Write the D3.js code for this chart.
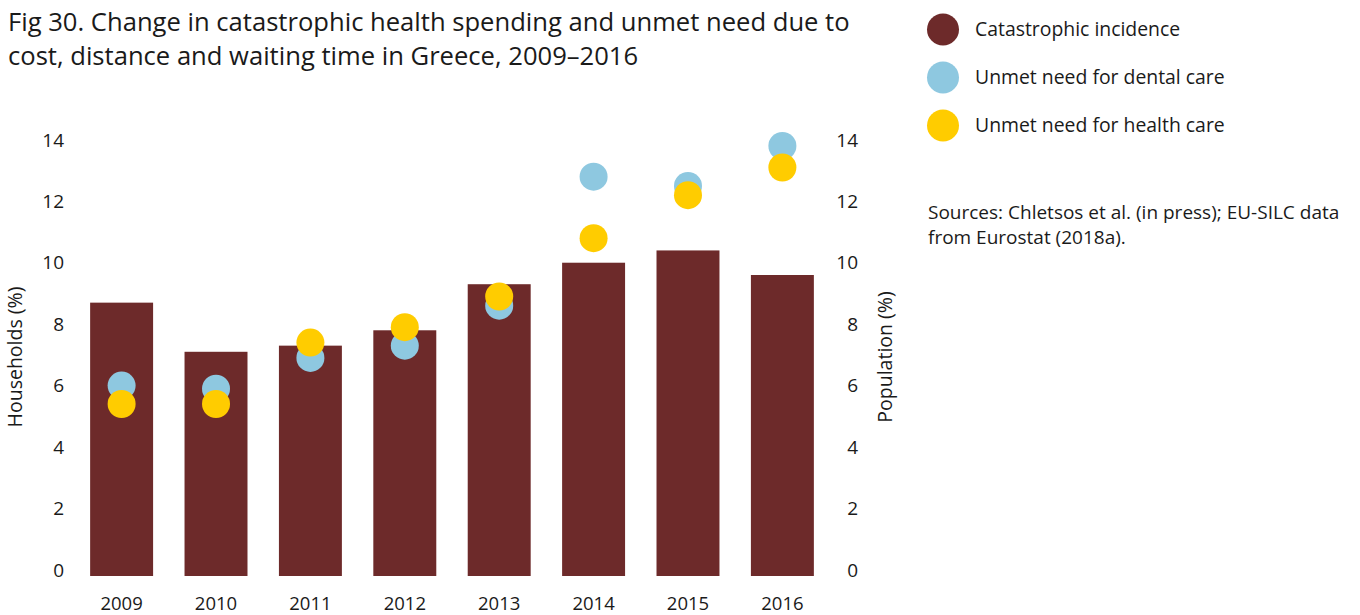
<!DOCTYPE html>
<html><head><meta charset="utf-8">
<script src="https://cdn.jsdelivr.net/npm/d3@7"></script>
<style>body{margin:0;background:#fff;} text{font-family:"Open Sans","Noto Sans",sans-serif;fill:#1a1a1a;}</style>
</head><body>
<svg id="c" width="1360" height="615"></svg>
<script>
const years = ["2009","2010","2011","2012","2013","2014","2015","2016"];
const catastrophic = [8.9, 7.3, 7.5, 8.0, 9.5, 10.2, 10.6, 9.8];
const dental = [6.2, 6.1, 7.1, 7.5, 8.8, 13.0, 12.7, 14.0];
const health = [5.6, 5.6, 7.6, 8.1, 9.1, 11.0, 12.4, 13.3];
const yTicks = [0, 2, 4, 6, 8, 10, 12, 14];
const seriesNames = ["Catastrophic incidence", "Unmet need for dental care", "Unmet need for health care"];
const colors = ["#6d2a2a", "#8ec8e0", "#ffcc00"];
const titleLines = ["Fig 30. Change in catastrophic health spending and unmet need due to", "cost, distance and waiting time in Greece, 2009\u20132016"];
const sourceLines = ["Sources: Chletsos et al. (in press); EU-SILC data", "from Eurostat (2018a)."];

const FONT = '"Open Sans","Noto Sans",sans-serif';
const svg = d3.select("#c");
const x = d3.scaleBand().domain(years).range([74.4, 829.6]).paddingInner(0.333).paddingOuter(0.1667);
const y = d3.scaleLinear().domain([0, 14]).range([576, 146]);

// title
svg.append("g").selectAll("text").data(titleLines).join("text")
  .attr("x", 8).attr("y", (d, i) => 31 + i * 34)
  .attr("font-size", 25.6).text(d => d);

// bars
svg.append("g").selectAll("rect").data(years).join("rect")
  .attr("x", d => x(d)).attr("width", x.bandwidth())
  .attr("y", (d, i) => y(catastrophic[i])).attr("height", (d, i) => y(0) - y(catastrophic[i]))
  .attr("fill", colors[0]);

// dots
const cx = d => x(d) + x.bandwidth() / 2;
svg.append("g").selectAll("circle").data(years).join("circle")
  .attr("cx", cx).attr("cy", (d, i) => y(dental[i])).attr("r", 14).attr("fill", colors[1]);
svg.append("g").selectAll("circle").data(years).join("circle")
  .attr("cx", cx).attr("cy", (d, i) => y(health[i])).attr("r", 14).attr("fill", colors[2]);

// axes
const left = svg.append("g").attr("transform", "translate(64,-6)")
  .call(d3.axisLeft(y).tickValues(yTicks).tickSize(0).tickPadding(0));
const right = svg.append("g").attr("transform", "translate(838,-6)")
  .call(d3.axisRight(y).tickValues(yTicks).tickSize(0).tickPadding(0));
const bottom = svg.append("g").attr("transform", "translate(0,610)")
  .call(d3.axisBottom(x).tickSize(0).tickPadding(0));
[left, right, bottom].forEach(g => {
  g.select(".domain").remove();
  g.selectAll("text").attr("font-size", 19).attr("fill", "#1a1a1a").style("font-family", FONT);
});
bottom.selectAll("text").attr("dy", "0").attr("font-size", 18.5);
right.selectAll("text").attr("text-anchor", "end").attr("x", 20);

svg.append("text").attr("transform", "translate(22,357) rotate(-90)")
  .attr("text-anchor", "middle").attr("font-size", 19.5).text("Households (%)");
svg.append("text").attr("transform", "translate(892,357) rotate(-90)")
  .attr("text-anchor", "middle").attr("font-size", 19.5).text("Population (%)");

// legend
const lg = svg.append("g").selectAll("g").data(seriesNames).join("g")
  .attr("transform", (d, i) => `translate(943,${29.5 + i * 48})`);
lg.append("circle").attr("r", 16).attr("fill", (d, i) => colors[i]);
lg.append("text").attr("x", 32).attr("dy", "0.35em").attr("font-size", 19.4).text(d => d);

svg.append("g").selectAll("text").data(sourceLines).join("text")
  .attr("x", 928).attr("y", (d, i) => 218.5 + i * 25).attr("font-size", 19).text(d => d);
</script>
</body></html>
